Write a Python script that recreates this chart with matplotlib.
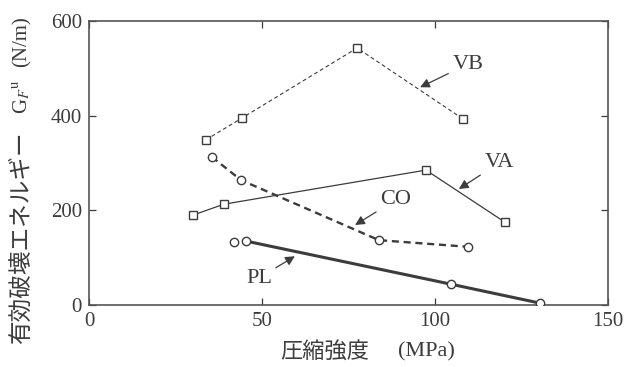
import matplotlib.pyplot as plt

# data
vb_x = [33.8, 44.2, 77.5, 108.1]
vb_y = [349, 395, 543, 393]
va_x = [30.1, 39.0, 97.4, 120.2]
va_y = [190, 213, 285, 175]
co_x = [35.5, 43.9, 83.8, 109.5]
co_y = [313, 264, 137, 123]
pl_x = [41.9, 45.4, 104.6, 130.3]
pl_y = [133, 135, 44, 4]

xticks = [0, 50, 100, 150]
yticks = [0, 200, 400, 600]

ink = '#3c3c3c'
serif = ['Liberation Serif', 'Noto Sans CJK JP']
plt.rcParams['font.family'] = serif
plt.rcParams['mathtext.fontset'] = 'stix'

fig = plt.figure(figsize=(6.36, 3.67), dpi=100)
ax = fig.add_axes([89 / 636, 62 / 367, 519 / 636, 284 / 367])

sq = dict(marker='s', ms=5.5, mfc='white', mec=ink, mew=1.0, color=ink)
ci = dict(marker='o', ms=6, mfc='white', mec=ink, mew=1.0, color=ink)

ax.plot(vb_x, vb_y, ls=(0, (3.5, 2.5)), lw=0.8, **sq)
ax.plot(va_x, va_y, ls='-', lw=0.9, **sq)
ax.plot(co_x, co_y, ls=(0, (3, 2)), lw=1.7, **ci)
ax.plot(pl_x[1:], pl_y[1:], ls='-', lw=2.2, color=ink, zorder=2)
ax.plot(pl_x, pl_y, ls='none', zorder=3, **ci)

ax.set_xlim(0, 150)
ax.set_ylim(0, 600)
ax.set_xticks(xticks)
ax.set_yticks(yticks)
ax.tick_params(direction='in', length=5, width=0.9, colors=ink,
               labelsize=15, top=True, right=True, pad=5)
for s in ax.spines.values():
    s.set_color('#555555')
    s.set_linewidth(1.2)

arrow = dict(arrowstyle='-|>', color=ink, lw=0.9, mutation_scale=14,
             shrinkA=1, shrinkB=0)
lab = dict(fontsize=16, color=ink, ha='center', va='center')
ax.annotate('VB', xy=(95.7, 460), xytext=(109.5, 509), arrowprops=arrow, **lab)
ax.annotate('VA', xy=(106.9, 245), xytext=(118.5, 300), arrowprops=arrow, **lab)
ax.annotate('CO', xy=(76.9, 169), xytext=(88.6, 222), arrowprops=arrow, **lab)
ax.annotate('PL', xy=(59.5, 103), xytext=(49.1, 57), arrowprops=arrow, **lab)

# axis labels
fig.text(325 / 636, 1 - 352 / 367, '圧縮強度', fontsize=16, color=ink,
         ha='center', va='center')
fig.text(426 / 636, 1 - 352 / 367, '(MPa)', fontsize=16, color=ink,
         ha='center', va='center')
fig.text(22 / 636, 1 - 238 / 367, '有効破壊エネルギー', fontsize=17, color=ink,
         rotation=90, ha='center', va='center')
fig.text(22 / 636, 1 - 97 / 367, r'G$_F$$^{\mathrm{u}}$', fontsize=15, color=ink,
         rotation=90, ha='center', va='center')
fig.text(22 / 636, 1 - 42 / 367, '(N/m)', fontsize=15, color=ink,
         rotation=90, ha='center', va='center')

fig.savefig('out.png', dpi=100)
